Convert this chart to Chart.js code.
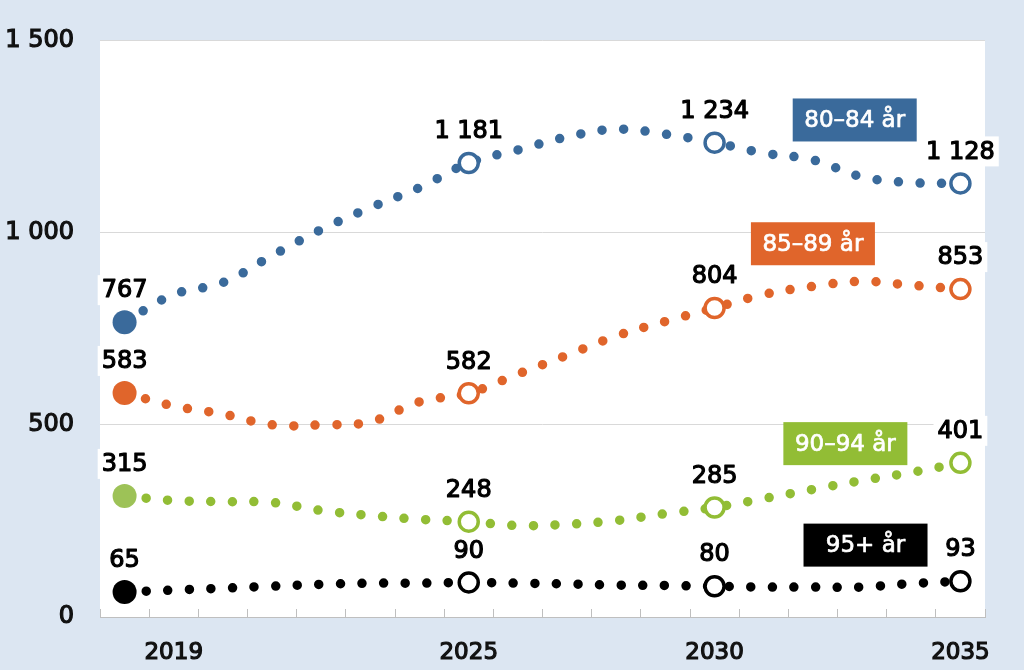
<!DOCTYPE html>
<html>
<head>
<meta charset="utf-8">
<script src="https://cdn.jsdelivr.net/npm/chart.js@4/dist/chart.umd.min.js"></script>
<style>
  html, body { margin: 0; padding: 0; background: #dce6f2; }
  #wrap { width: 1024px; height: 670px; position: relative; }
</style>
</head>
<body>
<div id="wrap"><canvas id="myChart"></canvas></div>
<script>
// years on the axis (first point sits in the first slot)
const years = [2018, 2019, 2020, 2021, 2022, 2023, 2024, 2025, 2026, 2027, 2028, 2029, 2030, 2031, 2032, 2033, 2034, 2035];
const shownYears = [2019, 2025, 2030, 2035];
// slots that carry a big marker and a value label
const markerIdx = [0, 7, 12, 17];

const age80_84 = [767, 839, 870, 940, 1008, 1065, 1117, 1181, 1215, 1249, 1269, 1256, 1234, 1207, 1189, 1145, 1130, 1128];
const age85_89 = [583, 549, 528, 500, 500, 508, 560, 582, 632, 681, 731, 769, 804, 839, 860, 873, 863, 853];
const age90_94 = [315, 303, 300, 298, 277, 264, 254, 248, 238, 241, 251, 269, 285, 308, 332, 355, 376, 401];
const age95 = [65, 70, 75, 80, 85, 88, 88, 90, 88, 86, 83, 82, 80, 78, 78, 78, 87, 93];

const seriesNames = ['80–84 år', '85–89 år', '90–94 år', '95+ år'];
const seriesColors = ['#3a6a9b', '#e0652b', '#92bd35', '#000000'];
const firstFill = ['#3a6a9b', '#e0652b', '#9dc257', '#000000'];
// where each name box sits: [x slot, y value]
const boxPos = [[14.85, 1293], [14.0, 971], [14.66, 451], [15.07, 187]];

const fmt = v => String(v).replace(/\B(?=(\d{3})+(?!\d))/g, ' ');
const FONT = '"DejaVu Sans", Verdana, sans-serif';

function makeSet(name, values, i) {
  return {
    label: name,
    data: values,
    borderColor: seriesColors[i],
    borderWidth: 9.5,
    borderDash: [0, 21.6],
    borderCapStyle: 'round',
    tension: 0.4,
    fill: false,
    pointRadius: c => c.dataIndex === 0 ? 12 : (markerIdx.includes(c.dataIndex) ? 9.5 : 0),
    pointHoverRadius: c => c.dataIndex === 0 ? 12 : (markerIdx.includes(c.dataIndex) ? 9.5 : 0),
    pointBorderWidth: c => c.dataIndex === 0 ? 0 : 3.5,
    pointBackgroundColor: c => c.dataIndex === 0 ? firstFill[i] : '#ffffff',
    pointBorderColor: c => c.dataIndex === 0 ? firstFill[i] : seriesColors[i]
  };
}

const bgPlugin = {
  id: 'bg',
  beforeDraw(chart) {
    const { ctx, chartArea: a } = chart;
    ctx.save();
    ctx.fillStyle = '#dce6f2';
    ctx.fillRect(0, 0, chart.width, chart.height);
    ctx.fillStyle = '#ffffff';
    ctx.fillRect(a.left, a.top, a.right - a.left, a.bottom - a.top);
    ctx.restore();
  }
};

const labelPlugin = {
  id: 'vlabels',
  afterDatasetsDraw(chart) {
    const { ctx, scales } = chart;
    ctx.save();
    ctx.font = '24px ' + FONT;
    ctx.textAlign = 'center';
    ctx.textBaseline = 'middle';
    ctx.lineJoin = 'round';
    chart.data.datasets.forEach((ds, di) => {
      const meta = chart.getDatasetMeta(di);
      markerIdx.forEach(k => {
        const pt = meta.data[k];
        const txt = fmt(ds.data[k]);
        const w = ctx.measureText(txt).width;
        const ty = pt.y - 32;
        ctx.fillStyle = '#ffffff';
        ctx.fillRect(pt.x - w / 2 - 4, ty - 15, w + 8, 30);
        ctx.fillStyle = '#000000';
        ctx.strokeStyle = '#000000';
        ctx.lineWidth = 1.2;
        ctx.fillText(txt, pt.x, ty + 1);
        ctx.strokeText(txt, pt.x, ty + 1);
      });
    });
    // series name boxes
    ctx.font = '23px ' + FONT;
    boxPos.forEach((p, i) => {
      const cx = scales.x.getPixelForValue(p[0]);
      const cy = scales.y.getPixelForValue(p[1]);
      ctx.fillStyle = seriesColors[i];
      ctx.fillRect(cx - 62, cy - 21.5, 124, 43);
      ctx.fillStyle = '#ffffff';
      ctx.strokeStyle = '#ffffff';
      ctx.lineWidth = 0.7;
      ctx.fillText(seriesNames[i], cx, cy + 1);
      ctx.strokeText(seriesNames[i], cx, cy + 1);
    });
    ctx.restore();
  }
};

const config = {
  type: 'line',
  data: {
    labels: years,
    datasets: [
      makeSet(seriesNames[0], age80_84, 0),
      makeSet(seriesNames[1], age85_89, 1),
      makeSet(seriesNames[2], age90_94, 2),
      makeSet(seriesNames[3], age95, 3)
    ]
  },
  options: {
    responsive: true,
    maintainAspectRatio: false,
    animation: false,
    layout: { padding: { top: 38, right: 39, left: 0, bottom: 0 } },
    plugins: { legend: { display: false }, tooltip: { enabled: false } },
    scales: {
      x: {
        offset: true,
        grid: { offset: true, drawOnChartArea: false, drawTicks: true, tickLength: -8, color: '#bfbfbf', lineWidth: 1 },
        border: { display: true, color: '#bfbfbf', width: 1 },
        ticks: {
          autoSkip: false,
          maxRotation: 0,
          padding: 30,
          color: '#111111',
          textStrokeColor: '#111111',
          textStrokeWidth: 1.2,
          font: { family: FONT, size: 23 },
          callback: function (v, i) { return shownYears.includes(years[i]) ? String(years[i]) : ''; }
        },
        afterFit: s => { s.height = 53; }
      },
      y: {
        min: 0,
        max: 1500,
        grid: { color: '#d9d9d9', lineWidth: 1, drawTicks: false },
        border: { display: false },
        ticks: {
          stepSize: 500,
          padding: 26,
          color: '#111111',
          textStrokeColor: '#111111',
          textStrokeWidth: 1.2,
          font: { family: FONT, size: 24 },
          callback: v => fmt(v)
        },
        afterFit: s => { s.width = 100; }
      }
    }
  },
  plugins: [bgPlugin, labelPlugin]
};

const myChart = new Chart(document.getElementById('myChart').getContext('2d'), config);
</script>
</body>
</html>
